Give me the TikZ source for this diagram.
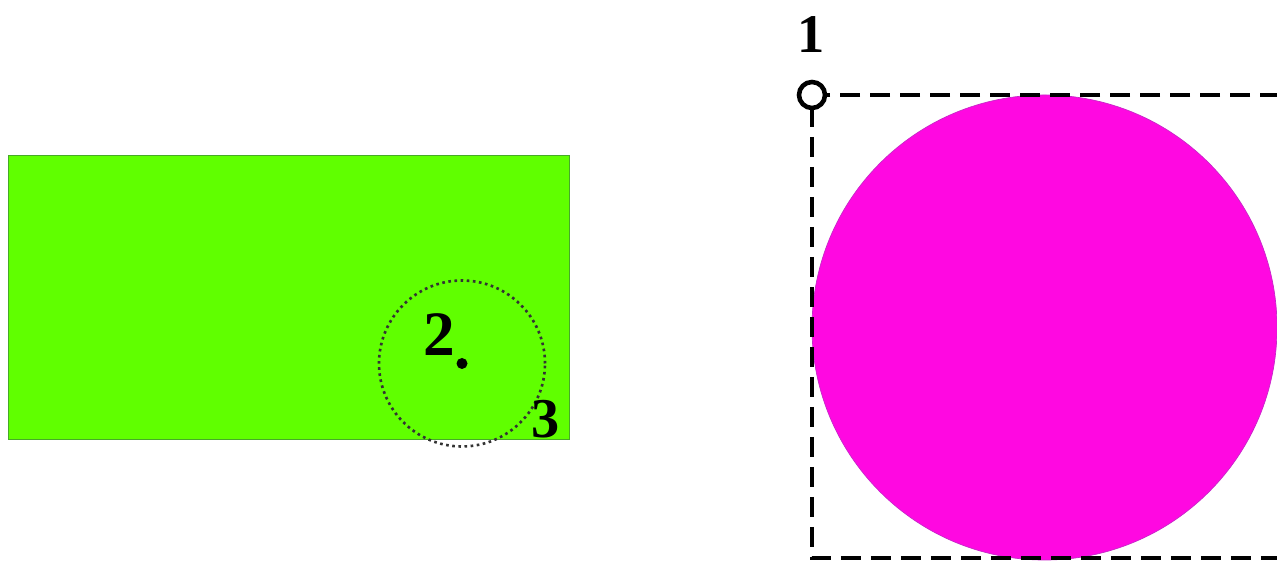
\documentclass[tikz,border=0pt]{standalone}
\usepackage{fontspec}
\setmainfont{Liberation Serif}
\usetikzlibrary{positioning}
\definecolor{SHAPE-GREEN}{RGB}{96, 255, 0}
\definecolor{EDGE-GREEN}{RGB}{70, 170, 40}
\definecolor{SHAPE-MAGENTA}{RGB}{255, 8, 225}
\definecolor{EDGE-MAGENTA}{RGB}{200, 40, 200}

\tikzset{
  numlabel/.style={inner sep=0pt, font=\bfseries},
  pickbox/.style={black, line width=2.6pt, dash pattern=on 0.4cm off 0.2cm},
}

\begin{document}
\begin{tikzpicture}
  \useasboundingbox (0,0) rectangle (25.54,11.24);
  \clip (0,0) rectangle (25.54,11.24);

  % Rectangle with the dotted pick circle
  \fill[SHAPE-GREEN, draw=EDGE-GREEN, thin] (0.16,2.46) rectangle (11.38,8.14);
  \coordinate (pick) at (9.24,3.97);
  \draw[black!80, line width=1.5pt, dotted] (pick) circle (1.66);
  \fill[black] (pick) circle (0.11);
  \node[numlabel, font=\fontsize{36}{36}\bfseries\selectfont] (two) at (8.78,4.54) {2};
  \node[numlabel, font=\fontsize{32}{32}\bfseries\selectfont] (three) at (10.92,2.85) {3};

  % Circle with its dashed bounding box
  \fill[SHAPE-MAGENTA, draw=EDGE-MAGENTA, thin] (20.89,4.69) circle (4.65);
  \coordinate (corner) at (16.24,9.34);
  \draw[pickbox] (26.2,9.34) -- (corner) -- (16.24,0.08) -- (26.2,0.08);
  \fill[white, draw=black, line width=2.6pt] (corner) circle (0.26);
  \node[numlabel, font=\fontsize{31}{31}\bfseries\selectfont] (one) at (16.23,10.54) {1};
\end{tikzpicture}
\end{document}
